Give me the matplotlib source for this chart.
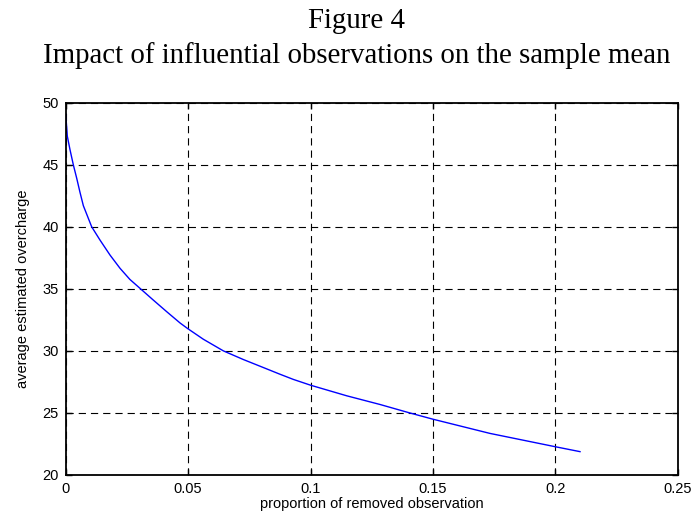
import matplotlib
matplotlib.use("Agg")
import matplotlib.pyplot as plt

# Data
proportion_removed = [0.0, 0.00065, 0.00176, 0.0031, 0.0045, 0.0058, 0.0072, 0.0106,
                      0.0140, 0.0181, 0.0222, 0.0262, 0.0304, 0.0358, 0.0413, 0.0467,
                      0.0498, 0.0562, 0.0644, 0.0726, 0.0807, 0.0875, 0.0930, 0.1001,
                      0.1148, 0.1284, 0.1400, 0.1499, 0.1733, 0.1999, 0.2101]
avg_overcharge = [49.1, 47.3, 46.2, 45.0, 43.9, 42.8, 41.7, 40.0,
                  38.93, 37.72, 36.65, 35.76, 35.03, 34.09, 33.15, 32.25,
                  31.8, 30.94, 30.0, 29.3, 28.66, 28.12, 27.7, 27.23,
                  26.38, 25.68, 25.03, 24.5, 23.35, 22.28, 21.88]
x_ticks = [0, 0.05, 0.1, 0.15, 0.2, 0.25]
x_tick_labels = ["0", "0.05", "0.1", "0.15", "0.2", "0.25"]
y_ticks = [20, 25, 30, 35, 40, 45, 50]
y_tick_labels = ["20", "25", "30", "35", "40", "45", "50"]

fig = plt.figure(figsize=(6.94, 5.16), dpi=100)
ax = fig.add_axes([0.0947, 0.0795, 0.9765 - 0.0947, 0.801 - 0.0795])

ax.plot(proportion_removed, avg_overcharge, color="#0000ff", linewidth=1.0)
ax.set_xlim(0, 0.25)
ax.set_ylim(20, 50)
ax.set_xticks(x_ticks)
ax.set_xticklabels(x_tick_labels)
ax.set_yticks(y_ticks)
ax.set_yticklabels(y_tick_labels)

sans = ["Liberation Sans", "DejaVu Sans"]
for lab in ax.get_xticklabels() + ax.get_yticklabels():
    lab.set_fontfamily(sans)
    lab.set_fontsize(10.5)

ax.tick_params(direction="in", top=True, right=True, length=4, width=1, pad=5)
ax.grid(True, color="black", linestyle=(0, (6.5, 4.5)), linewidth=0.8)
for s in ax.spines.values():
    s.set_linewidth(1.3)
    s.set_color("black")

ax.set_xlabel("proportion of removed observation", family=sans, fontsize=10.5, labelpad=1)
ax.set_ylabel("average estimated overcharge", family=sans, fontsize=10.5, labelpad=9)

serif = ["Liberation Serif", "DejaVu Serif"]
fig.text(357 / 694, 1 - 28 / 516, "Figure 4", family=serif, fontsize=20.8,
         ha="center", va="baseline")
fig.text(357 / 694, 1 - 63 / 516, "Impact of influential observations on the sample mean",
         family=serif, fontsize=20.8, ha="center", va="baseline")

fig.savefig("out.png", dpi=100)
